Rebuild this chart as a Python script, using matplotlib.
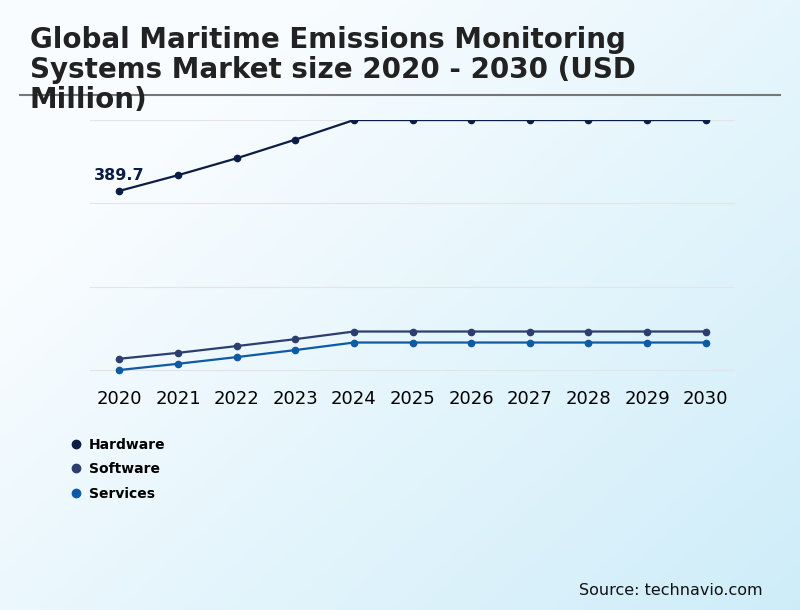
import numpy as np
import matplotlib.pyplot as plt
from matplotlib.lines import Line2D

years = [2020, 2021, 2022, 2023, 2024, 2025, 2026, 2027, 2028, 2029, 2030]
hardware = [389.7, 407.8, 427.3, 448.8, 471.4, 471.4, 471.4, 471.4, 471.4, 471.4, 471.4]
software = [196.2, 203.0, 210.8, 218.8, 227.6, 227.6, 227.6, 227.6, 227.6, 227.6, 227.6]
services = [183.2, 190.4, 198.1, 206.2, 214.9, 214.9, 214.9, 214.9, 214.9, 214.9, 214.9]
names = ['Hardware', 'Software', 'Services']
colors = ['#0b1d45', '#2c3e70', '#0d5aa7']

title = 'Global Maritime Emissions Monitoring\nSystems Market size 2020 - 2030 (USD\nMillion)'

fig = plt.figure(figsize=(8, 6.1), dpi=100)

# background gradient
bg = fig.add_axes([0, 0, 1, 1], zorder=-10)
gx, gy = np.meshgrid(np.linspace(0, 1, 200), np.linspace(0, 1, 200))
t = np.clip((gx * 0.65 + gy * 0.55) - 0.25, 0, 1)
c0 = np.array([0.975, 0.99, 1.0])
c1 = np.array([0.80, 0.925, 0.975])
img = c0[None, None, :] * (1 - t[..., None]) + c1[None, None, :] * t[..., None]
bg.imshow(img, aspect='auto', extent=[0, 1, 0, 1], origin='upper')
bg.axis('off')

ax = fig.add_axes([0.1125, 0.377, 0.80625, 0.4262])
ax.patch.set_alpha(0)
series = [hardware, software, services]
for vals, c, n in zip(series, colors, names):
    ax.plot(years, vals, color=c, lw=1.6, marker='o', ms=4.5, label=n)

ymin = min(services)
ymax = max(hardware)
ax.set_ylim(ymin - (ymax - ymin) * 10 / 250, ymax)
ax.set_yticks(np.linspace(ymin, ymax, 4))
ax.set_xlim(years[0] - 0.5, years[-1] + 0.5)
ax.set_xticks(years)
ax.tick_params(axis='x', length=0, labelsize=13, pad=7)
ax.tick_params(axis='y', length=0, labelleft=False)
ax.grid(axis='y', color='#e4e4e4', lw=0.8)
for s in ax.spines.values():
    s.set_visible(False)

ax.annotate(f'{hardware[0]}', (years[0], hardware[0]), xytext=(-18, 6),
            textcoords='offset points', fontsize=11.5, fontweight='bold',
            color=colors[0], ha='left', va='bottom')

handles = [Line2D([], [], ls='none', marker='o', ms=6, color=c) for c in colors]
fig.legend(handles, names, loc='upper left', bbox_to_anchor=(0.072, 0.303),
           frameon=False, prop={'size': 10, 'weight': 'bold'},
           handlelength=0.8, handletextpad=0.55, labelspacing=0.75)

fig.text(0.0375, 0.957, title, fontsize=20, fontweight='bold', color='#222222',
         va='top', ha='left', linespacing=1.08)
fig.add_artist(Line2D([0.025, 0.975], [0.844, 0.844], color='#777777', lw=1.5))

fig.text(0.953, 0.02, 'Source: technavio.com', fontsize=11.5, ha='right', va='bottom', color='#111111')

fig.savefig('out.png', dpi=100)
